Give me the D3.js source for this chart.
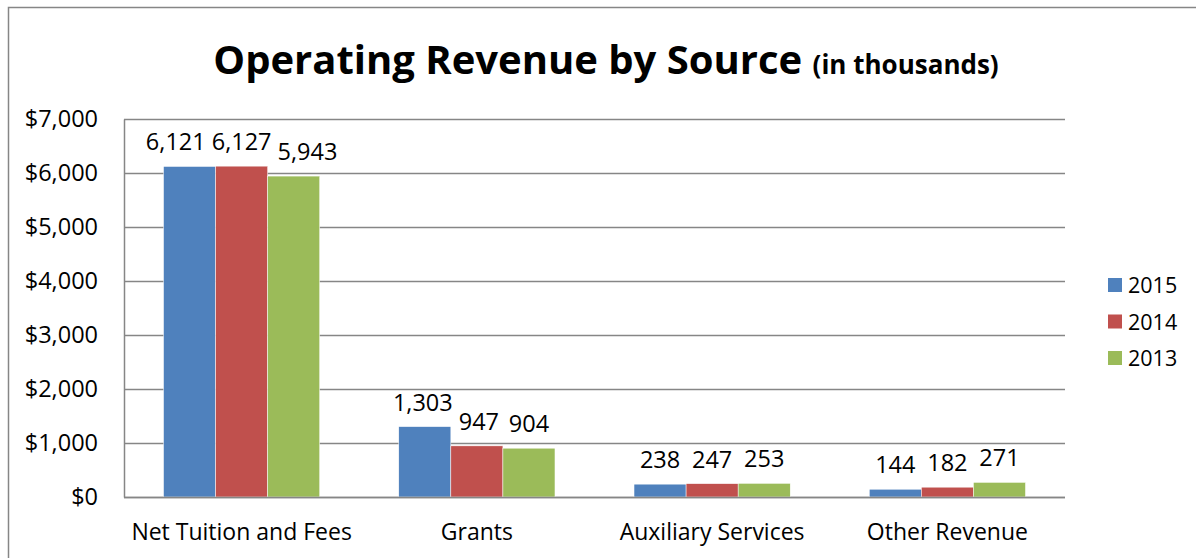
<!DOCTYPE html>
<html>
<head>
<meta charset="utf-8">
<script src="https://cdn.jsdelivr.net/npm/d3@7"></script>
<style>
  body { margin: 0; background: #fff; }
  svg { font-family: "Open Sans", sans-serif; }
</style>
</head>
<body>
<svg id="chart" width="1196" height="558"></svg>
<script>
// chart data
var categories = ["Net Tuition and Fees", "Grants", "Auxiliary Services", "Other Revenue"];
var years = ["2015", "2014", "2013"];
var values2015 = [6121, 1303, 238, 144];
var values2014 = [6127, 947, 247, 182];
var values2013 = [5943, 904, 253, 271];
var yTicks = [0, 1000, 2000, 3000, 4000, 5000, 6000, 7000];
var colors = ["#4F81BD", "#C0504D", "#9BBB59"];

var seriesValues = [values2015, values2014, values2013];

var svg = d3.select("#chart");

// outer border
svg.append("rect")
    .attr("x", 8.5).attr("y", 7.5)
    .attr("width", 1196).attr("height", 600)
    .attr("fill", "none")
    .attr("stroke", "#868686")
    .attr("stroke-width", 1.5);

var margin = {top: 119, left: 124, right: 1065, bottom: 497};

var x0 = d3.scaleBand()
    .domain(categories)
    .range([margin.left, margin.right])
    .paddingInner(0.336)
    .paddingOuter(0.168);

var x1 = d3.scaleBand()
    .domain(years)
    .range([0, x0.bandwidth()]);

var y = d3.scaleLinear()
    .domain([0, 7000])
    .range([margin.bottom, margin.top]);

// gridlines
svg.append("g")
    .selectAll("line")
    .data(yTicks)
    .enter().append("line")
    .attr("x1", margin.left).attr("x2", margin.right)
    .attr("y1", function(d) { return y(d) + 0.5; })
    .attr("y2", function(d) { return y(d) + 0.5; })
    .attr("stroke", "#868686")
    .attr("stroke-width", 1.5);

// y axis
var yAxis = svg.append("g")
    .attr("transform", "translate(" + margin.left + ",0)")
    .call(d3.axisLeft(y).tickValues(yTicks).tickSize(0).tickPadding(26)
        .tickFormat(function(d) { return "$" + d3.format(",")(d); }));
yAxis.select(".domain").attr("stroke", "#868686").attr("stroke-width", 1.5);
yAxis.selectAll("text")
    .attr("font-size", 23.5)
    .attr("fill", "#000")
    .attr("font-family", "'Open Sans', sans-serif");

// bars
var groups = svg.append("g")
    .selectAll("g")
    .data(categories)
    .enter().append("g")
    .attr("transform", function(d) { return "translate(" + x0(d) + ",0)"; });

groups.selectAll("rect")
    .data(function(d, i) {
        return years.map(function(yr, j) { return {year: yr, value: seriesValues[j][i], idx: j}; });
    })
    .enter().append("rect")
    .attr("x", function(d) { return x1(d.year); })
    .attr("y", function(d) { return y(d.value); })
    .attr("width", x1.bandwidth())
    .attr("height", function(d) { return y(0) - y(d.value); })
    .attr("fill", function(d) { return colors[d.idx]; })
    .attr("stroke", "#fff")
    .attr("stroke-width", 0.5);

// data labels
groups.each(function(cat, i) {
    var g = d3.select(this);
    var labels = g.selectAll("text")
        .data(years.map(function(yr, j) { return {year: yr, value: seriesValues[j][i]}; }))
        .enter().append("text")
        .attr("x", function(d) { return x1(d.year) + x1.bandwidth() / 2; })
        .attr("y", function(d) { return y(d.value) - 16; })
        .attr("text-anchor", "middle")
        .attr("font-size", 23.5)
        .text(function(d) { return d3.format(",")(d.value); });

    // push neighbouring labels apart when they collide (like excel does)
    var items = [];
    labels.each(function(d) {
        var b = this.getBBox();
        items.push({el: this, cx: b.x + b.width / 2, w: b.width, y: b.y, h: b.height});
    });
    for (var iter = 0; iter < 20; iter++) {
        var moved = false;
        for (var k = 1; k < items.length; k++) {
            var a = items[k - 1], b = items[k];
            var vOverlap = a.y < b.y + b.h && b.y < a.y + a.h;
            var gap = (b.cx - b.w / 2) - (a.cx + a.w / 2);
            if (vOverlap && gap < 6) {
                var shift = (6 - gap) / 2;
                a.cx -= shift;
                b.cx += shift;
                moved = true;
            }
        }
        if (!moved) break;
    }
    items.forEach(function(it) { d3.select(it.el).attr("x", it.cx); });
});

// x axis baseline and labels
svg.append("line")
    .attr("x1", margin.left).attr("x2", margin.right)
    .attr("y1", y(0) + 0.5).attr("y2", y(0) + 0.5)
    .attr("stroke", "#868686")
    .attr("stroke-width", 1.5);

svg.append("g")
    .selectAll("text")
    .data(categories)
    .enter().append("text")
    .attr("x", function(d) { return x0(d) + x0.bandwidth() / 2; })
    .attr("y", 540)
    .attr("text-anchor", "middle")
    .attr("font-size", 23)
    .text(function(d) { return d; });

// title
var title = svg.append("text")
    .attr("x", 606)
    .attr("y", 74)
    .attr("text-anchor", "middle")
    .attr("font-weight", "bold")
    .attr("font-size", 40);
title.append("tspan").text("Operating Revenue by Source ");
title.append("tspan").attr("font-size", 26).text("(in thousands)");

// legend
var legend = svg.append("g")
    .selectAll("g")
    .data(years)
    .enter().append("g")
    .attr("transform", function(d, i) { return "translate(1108," + (278 + i * 36.5) + ")"; });

legend.append("rect")
    .attr("width", 14).attr("height", 14)
    .attr("fill", function(d, i) { return colors[i]; });

legend.append("text")
    .attr("x", 20)
    .attr("y", 15)
    .attr("font-size", 21.5)
    .text(function(d) { return d; });
</script>
</body>
</html>
